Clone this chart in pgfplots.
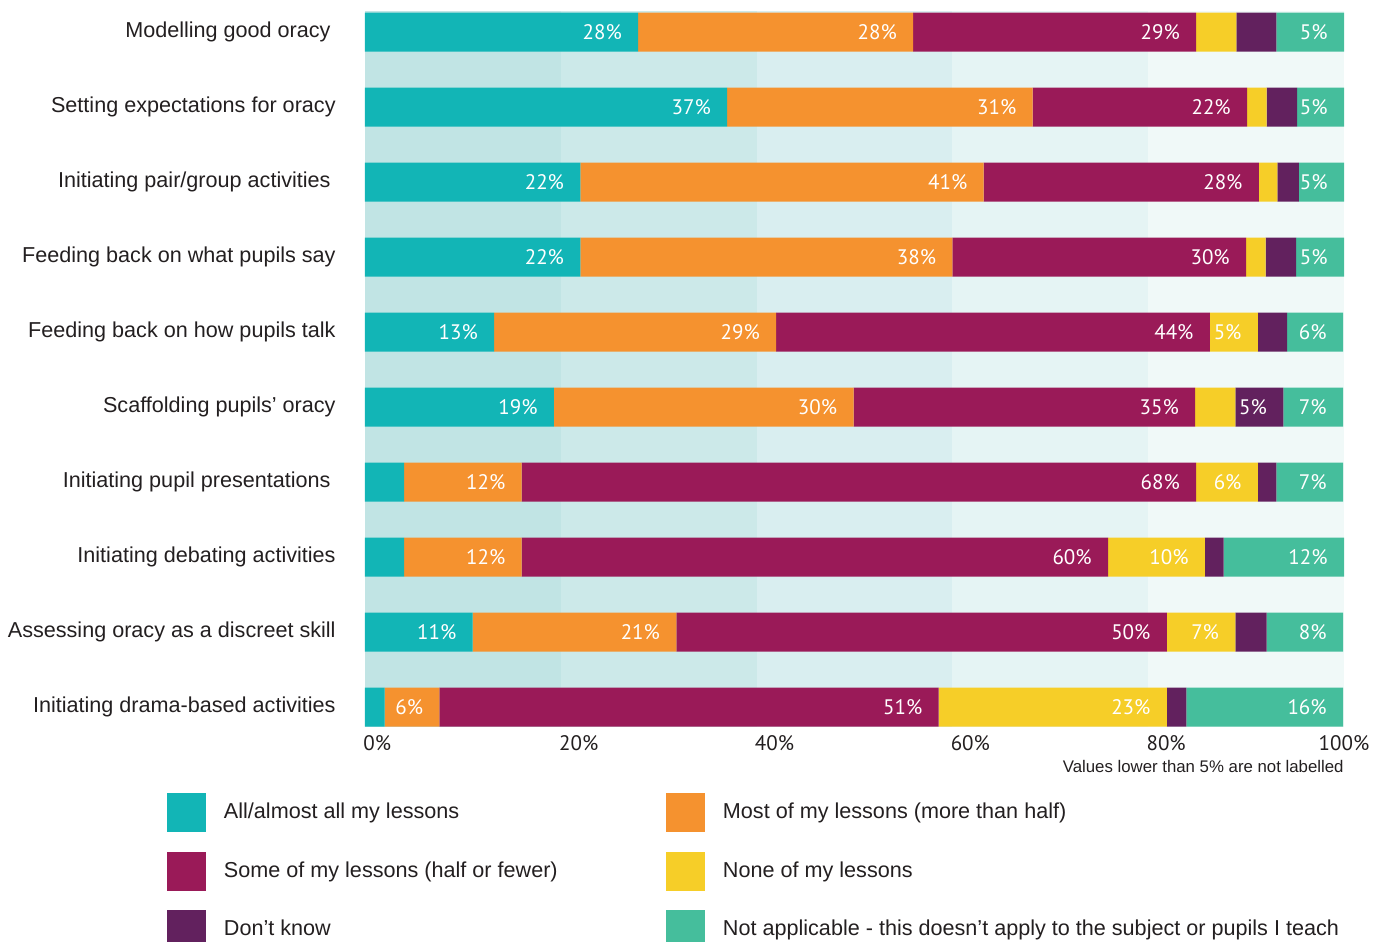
\documentclass[border=0pt]{standalone}
\usepackage{pgfplots}
\pgfplotsset{compat=1.18}
\usepackage{fontspec}
\setmainfont{Liberation Sans}
\newfontfamily\labfont{PT Sans}
\definecolor{cTeal}{HTML}{12B5B6}
\definecolor{cOrange}{HTML}{F5922F}
\definecolor{cMaroon}{HTML}{9A1A58}
\definecolor{cYellow}{HTML}{F6CE28}
\definecolor{cPurple}{HTML}{62215E}
\definecolor{cGreen}{HTML}{45BE9C}
\definecolor{bA}{HTML}{C1E4E4}
\definecolor{bB}{HTML}{CCE9E9}
\definecolor{bC}{HTML}{D9EEF0}
\definecolor{bD}{HTML}{E5F4F4}
\definecolor{bE}{HTML}{F0F9F8}
\definecolor{txt}{HTML}{231F20}
\begin{document}
\begin{tikzpicture}
\useasboundingbox (-182.5pt,-107.5pt) rectangle (511pt,363.5pt);
\begin{axis}[
  scale only axis,
  width=489.5pt, height=357.5pt,
  xmin=0, xmax=100, ymin=-0.2667, ymax=9.2667,
  y dir=reverse,
  xbar stacked, bar width=19.5pt,
  clip=false,
  axis background/.style={path picture={
    \fill[bA] (path picture bounding box.south west) rectangle +(97.9pt,400pt);
    \fill[bB] ([xshift=97.9pt]path picture bounding box.south west) rectangle +(97.9pt,400pt);
    \fill[bC] ([xshift=195.8pt]path picture bounding box.south west) rectangle +(97.9pt,400pt);
    \fill[bD] ([xshift=293.7pt]path picture bounding box.south west) rectangle +(97.9pt,400pt);
    \fill[bE] ([xshift=391.6pt]path picture bounding box.south west) rectangle +(97.9pt,400pt);
  }},
  axis line style={draw=none},
  major tick length=0pt,
  xtick={0,20,40,60,80}, xticklabels={0\%,20\%,40\%,60\%,80\%},
  extra x ticks={100}, extra x tick labels={100\%},
  extra x tick style={xticklabel style={anchor=north, xshift=1pt}},
  xticklabel style={font=\labfont\fontsize{10.5}{12}\selectfont, text=txt, anchor=north west, inner sep=0pt, xshift=-1pt, yshift=-4pt},
  ytick={0,...,9},
  yticklabels={{Modelling good oracy\hspace*{2.5pt}},{Setting expectations for oracy},{Initiating pair/group activities\hspace*{2.5pt}},{Feeding back on what pupils say},{Feeding back on how pupils talk},{Scaffolding pupils’ oracy},{Initiating pupil presentations\hspace*{2.5pt}},{Initiating debating activities},{Assessing oracy as a discreet skill},{Initiating drama-based activities}},
  yticklabel style={font=\fontsize{10.8}{12}\selectfont, text=txt, anchor=east, inner sep=0pt, xshift=-14.5pt},
  point meta=explicit symbolic,
  visualization depends on={rawx \as \rawx},
  nodes near coords,
  every node near coord/.append style={font=\labfont\fontsize{10.5}{12}\selectfont, text=white, anchor=east, xshift={\rawx*2.4475pt-8pt}, inner sep=0pt},
  legend columns=2,
  legend cell align=left,
  legend image code/.code={\fill[#1] (0pt,-9.75pt) rectangle (19.5pt,9.75pt);},
  legend style={at={(axis description cs:-0.20225,-0.09231)}, anchor=north west, draw=none, fill=none, inner sep=0pt, outer sep=0pt, row sep=9.75pt, column sep=0pt, font=\fontsize{10.8}{12}\selectfont, text=txt, nodes={inner sep=0pt}, /tikz/every odd column/.append style={column sep=9pt}},
]
\addplot[fill=cTeal, draw=none] coordinates {
 (27.9,0) [28\%] (37.0,1) [37\%] (22.0,2) [22\%] (22.0,3) [22\%] (13.2,4) [13\%]
 (19.3,5) [19\%] (4.0,6) [] (4.0,7) [] (11.0,8) [11\%] (2.0,9) []};
\addlegendentry{\makebox[221pt][l]{All/almost all my lessons}}
\addplot[fill=cOrange, draw=none] coordinates {
 (28.1,0) [28\%] (31.2,1) [31\%] (41.2,2) [41\%] (38.0,3) [38\%] (28.8,4) [29\%]
 (30.6,5) [30\%] (12.0,6) [12\%] (12.0,7) [12\%] (20.8,8) [21\%] (5.6,9) [6\%]};
\addlegendentry{Most of my lessons (more than half)}
\addplot[fill=cMaroon, draw=none] coordinates {
 (28.9,0) [29\%] (21.9,1) [22\%] (28.1,2) [28\%] (30.0,3) [30\%] (44.3,4) [44\%]
 (34.9,5) [35\%] (68.9,6) [68\%] (59.9,7) [60\%] (50.1,8) [50\%] (51.0,9) [51\%]};
\addlegendentry{\makebox[221pt][l]{Some of my lessons (half or fewer)}}
\addplot[fill=cYellow, draw=none] coordinates {
 (4.1,0) [] (2.0,1) [] (1.9,2) [] (2.0,3) [] (4.9,4) [5\%]
 (4.1,5) [] (6.3,6) [6\%] (9.9,7) [10\%] (7.0,8) [7\%] (23.3,9) [23\%]};
\addlegendentry{None of my lessons}
\addplot[fill=cPurple, draw=none] coordinates {
 (4.1,0) [] (3.1,1) [] (2.2,2) [] (3.1,3) [] (3.0,4) []
 (4.9,5) [5\%] (1.9,6) [] (1.9,7) [] (3.2,8) [] (2.0,9) []};
\addlegendentry{\makebox[221pt][l]{Don’t know}}
\addplot[fill=cGreen, draw=none] coordinates {
 (6.9,0) [5\%] (4.8,1) [5\%] (4.6,2) [5\%] (4.9,3) [5\%] (5.7,4) [6\%]
 (6.1,5) [7\%] (6.8,6) [7\%] (12.3,7) [12\%] (7.8,8) [8\%] (16.0,9) [16\%]};
\addlegendentry{Not applicable - this doesn’t apply to the subject or pupils I teach}
\node[anchor=base east, font=\fontsize{8.4}{10}\selectfont, text=txt, inner sep=0pt] at (axis description cs:1,-0.0643) {Values lower than 5\% are not labelled};
\end{axis}
\end{tikzpicture}
\end{document}
